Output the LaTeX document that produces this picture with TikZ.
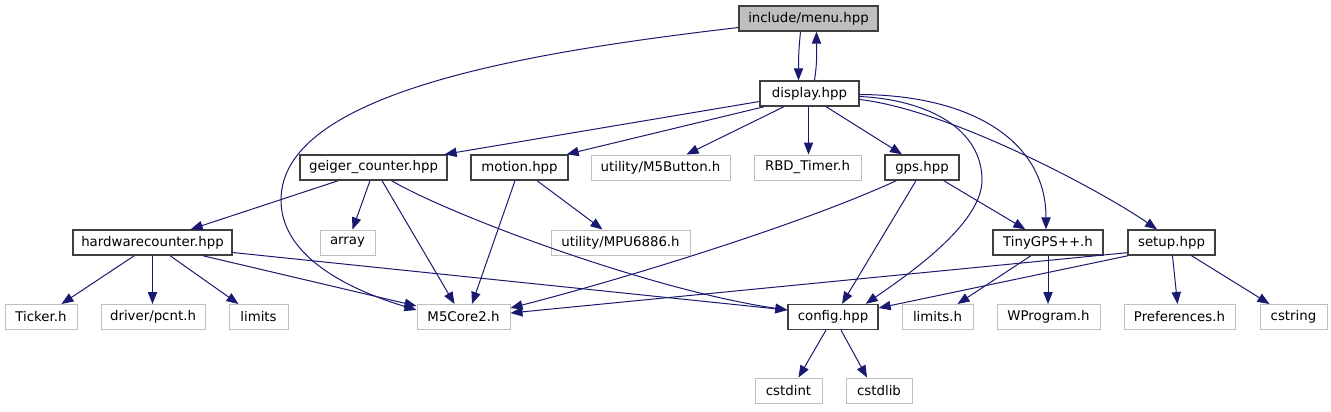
\documentclass[tikz,border=0pt]{standalone}
\usepackage{fontspec}
\setmainfont{DejaVu Sans}
\usetikzlibrary{arrows.meta,calc}
\definecolor{edgec}{HTML}{191970}
\definecolor{leafc}{HTML}{BFBFBF}
\definecolor{projc}{HTML}{404040}
\begin{document}
\begin{tikzpicture}[x=0.75pt,y=-0.75pt,
  box/.style={rectangle, minimum height=18.75pt, inner sep=0pt, line width=0.75pt, font=\fontsize{10pt}{12pt}\selectfont, text=black},
  proj/.style={box, draw=projc, line width=1pt},
  leaf/.style={box, draw=leafc},
  cur/.style={box, draw=projc, line width=1pt, fill=leafc},
  edge/.style={draw=edgec, line width=0.75pt, -{Triangle[length=9pt,width=7pt]}}]
\useasboundingbox (0,0) rectangle (1331,411);

% nodes
\node[cur,  minimum width=104.25pt] (menu)     at (808.5,18.5)  {include/menu.hpp};
\node[proj, minimum width=74.25pt]  (display)  at (809.5,93.5)  {display.hpp};
\node[proj, minimum width=110.25pt] (geiger)   at (373.5,167.5) {geiger\_counter.hpp};
\node[proj, minimum width=72.75pt]  (motion)   at (519.5,167.5) {motion.hpp};
\node[leaf, minimum width=104.25pt] (m5button) at (660.5,167.5) {utility/M5Button.h};
\node[leaf, minimum width=80.25pt]  (rbd)      at (807.5,167.5) {RBD\_Timer.h};
\node[proj, minimum width=55.5pt]   (gps)      at (922,167.5)   {gps.hpp};
\node[proj, minimum width=119.25pt] (hwc)      at (152.5,242.5) {hardwarecounter.hpp};
\node[leaf, minimum width=41.25pt]  (array)    at (347.5,242.5) {array};
\node[leaf, minimum width=104.25pt] (mpu)      at (620.5,242.5) {utility/MPU6886.h};
\node[proj, minimum width=82.5pt]   (tinygps)  at (1048,242.5)  {TinyGPS++.h};
\node[proj, minimum width=65.25pt]  (setup)    at (1171.5,242.5){setup.hpp};
\node[leaf, minimum width=54pt]     (ticker)   at (41,317)      {Ticker.h};
\node[leaf, minimum width=78pt]     (pcnt)     at (153,317)     {driver/pcnt.h};
\node[leaf, minimum width=44.25pt]  (limits)   at (258.5,317)   {limits};
\node[leaf, minimum width=69.75pt]  (m5core2)  at (463.5,317)   {M5Core2.h};
\node[proj, minimum width=67.5pt]   (config)   at (833,317)     {config.hpp};
\node[leaf, minimum width=53.25pt]  (limitsh)  at (937.5,317)   {limits.h};
\node[leaf, minimum width=77.25pt]  (wprogram) at (1048.5,317)  {WProgram.h};
\node[leaf, minimum width=83.25pt]  (prefs)    at (1179.5,317)  {Preferences.h};
\node[leaf, minimum width=50.25pt]  (cstring)  at (1293.5,317)  {cstring};
\node[leaf, minimum width=50.25pt]  (cstdint)  at (788.5,390.5) {cstdint};
\node[leaf, minimum width=49.5pt]   (cstdlib)  at (879,390.5)   {cstdlib};

% edges from include/menu.hpp and display.hpp
\draw[edge] ($(menu.south)+(-8,0)$) .. controls +(-2,20) and +(0,-20) .. ($(display.north)+(-11,0)$);
\draw[edge] ($(display.north)+(5,0)$) .. controls +(3,-20) and +(0,20) .. ($(menu.south)+(8,0)$);
\draw[edge] ($(menu.west)+(0,9)$) .. controls (539,51) and (281,90) .. (281,200)
            .. controls (281,260) and (357,292) .. ($(m5core2.west)+(0,-7)$);
\draw[edge] ($(display.west)+(0,8)$) -- ($(geiger.north east)+(-3,0)$);
\draw[edge] ($(display.south west)+(5,0)$) -- ($(motion.north east)+(-2,0)$);
\draw[edge] ($(display.south)+(-25.5,0)$) -- ($(m5button.north east)+(-44,0)$);
\draw[edge] ($(display.south)+(-1,0)$) -- ($(display.south |- rbd.north)+(-1,0)$);
\draw[edge] ($(display.south)+(16.5,0)$) -- ($(gps.north)+(-20,0)$);
\draw[edge] ($(display.east)+(0,3)$) .. controls (930,100) and (982,130) .. (982,180)
            .. controls (982,222) and (915,270) .. ($(config.north east)+(-13,0)$);
\draw[edge] ($(display.east)+(0,1)$) .. controls (970,95) and (1046,140) .. ($(tinygps.north)+(-2,0)$);
\draw[edge] ($(display.east)+(0,6)$) .. controls (950,110) and (1100,190) .. ($(setup.north)+(-14.5,0)$);

% geiger_counter.hpp
\draw[edge] ($(geiger.south west)+(39,0)$) -- ($(hwc.north east)+(-42,0)$);
\draw[edge] ($(geiger.south)+(-3.5,0)$) -- ($(array.north)+(5,0)$);
\draw[edge] ($(geiger.south)+(8.5,0)$) -- ($(m5core2.north)+(-9,0)$);
\draw[edge] ($(geiger.south)+(18,0)$) .. controls (450,215) and (650,290) .. ($(config.west)+(0,-7)$);

% motion.hpp
\draw[edge] ($(motion.south)+(-4.5,0)$) -- ($(m5core2.north)+(8.5,0)$);
\draw[edge] ($(motion.south)+(17.5,0)$) -- ($(mpu.north)+(-18,0)$);

% gps.hpp
\draw[edge] ($(gps.south west)+(12,0)$) .. controls (800,225) and (620,280) .. ($(m5core2.east)+(0,-9)$);
\draw[edge] ($(gps.south)+(-6,0)$) -- ($(config.north)+(9,0)$);
\draw[edge] ($(gps.south east)+(-16,0)$) -- ($(tinygps.north west)+(33,0)$);

% hardwarecounter.hpp
\draw[edge] ($(hwc.south west)+(62,0)$) -- ($(ticker.north east)+(-16,0)$);
\draw[edge] (hwc.south) -- (hwc.south |- pcnt.north);
\draw[edge] ($(hwc.south)+(17.5,0)$) -- ($(limits.north)+(-20,0)$);
\draw[edge] ($(hwc.south east)+(-30,0)$) -- ($(m5core2.west)+(0,-11)$);
\draw[edge] ($(hwc.east)+(0,10)$) -- ($(config.west)+(0,-7)$);

% TinyGPS++.h
\draw[edge] ($(tinygps.south)+(-17,0)$) -- ($(limitsh.north)+(20,0)$);
\draw[edge] (tinygps.south) -- (tinygps.south |- wprogram.north);

% setup.hpp
\draw[edge] ($(setup.south west)+(0,-3)$) -- ($(m5core2.east)+(0,-4)$);
\draw[edge] ($(setup.south west)+(1,0)$) -- ($(config.east)+(0,-9)$);
\draw[edge] ($(setup.south)+(1,0)$) -- ($(prefs.north)+(-2,0)$);
\draw[edge] ($(setup.south)+(20,0)$) -- ($(cstring.north)+(-24,0)$);

% config.hpp
\draw[edge] ($(config.south)+(-7,0)$) -- ($(cstdint.north)+(10,0)$);
\draw[edge] ($(config.south)+(8,0)$) -- ($(cstdlib.north)+(-12,0)$);
\end{tikzpicture}
\end{document}
